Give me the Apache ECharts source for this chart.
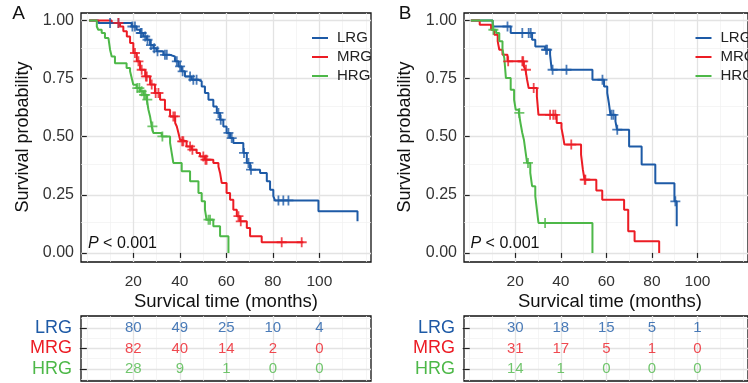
<!DOCTYPE html>
<html>
<head>
<meta charset="utf-8">
<script src="https://cdn.jsdelivr.net/npm/echarts@6/dist/echarts.min.js"></script>
<style>
html, body { margin: 0; padding: 0; background: #fff; }
#container1 { width: 748px; height: 383px; }
</style>
</head>
<body>
<div id="container1"></div>
<script>
var groups = ['LRG', 'MRG', 'HRG'];
var colors = ['#1d5aa6', '#ec1c24', '#4db848'];
var xTicks = [20, 40, 60, 80, 100];
var xMinor = [0, 10, 30, 50, 70, 90, 110, 120];
var yTicks = [0, 0.25, 0.5, 0.75, 1];
var yMinor = [0.125, 0.375, 0.625, 0.875];
var riskTimes = [20, 40, 60, 80, 100];

// panel A: step times / survival after the step / censor times
var aLrgTime = [1, 5, 19.3, 21.4, 22.9, 24.3, 25.8, 27.2, 28.6, 30.0, 32.9, 35.8, 37.9, 39.4, 40.8, 42.2, 45.1, 47.9, 49.4, 50.8, 52.3, 54.4, 55.9, 57.3, 58.7, 60.1, 61.6, 63.0, 67.3, 68.8, 70.2, 74.5, 77.4, 78.8, 80.2, 80.9, 99.6, 116.4];
var aLrgSurv = [1, .989, .974, .960, .946, .931, .917, .894, .880, .867, .852, .845, .824, .802, .781, .759, .745, .738, .716, .688, .659, .630, .602, .573, .544, .516, .494, .473, .430, .387, .358, .344, .308, .272, .244, .226, .179, .136];
var aLrgCens = [10.0, 13.6, 19.6, 20.7, 23.2, 23.6, 25.1, 26.1, 27.6, 29.0, 30.4, 33.6, 34.4, 38.7, 40.1, 41.2, 44.4, 45.8, 47.2, 56.6, 57.6, 60.9, 62.3, 67.6, 69.5, 70.6, 82.4, 84.5, 86.7];

var aMrgTime = [1, 10.7, 14.3, 15.7, 17.2, 18.6, 20.0, 21.5, 22.9, 25.1, 27.2, 29.3, 31.5, 33.6, 35.8, 38.0, 38.7, 39.4, 40.1, 40.8, 42.9, 45.1, 47.2, 48.7, 50.8, 54.4, 56.6, 57.3, 58.0, 60.1, 61.6, 63.0, 64.5, 65.9, 68.8, 70.2, 75.2, 93.1];
var aMrgSurv = [1, .989, .974, .953, .931, .903, .860, .824, .788, .759, .724, .688, .659, .616, .587, .559, .544, .516, .487, .480, .458, .444, .430, .415, .401, .387, .372, .344, .301, .258, .229, .186, .158, .136, .107, .072, .046, .046];
var aMrgCens = [13.6, 20.7, 22.2, 23.6, 25.4, 25.8, 27.9, 29.6, 30.8, 37.2, 37.9, 41.0, 41.5, 44.4, 45.4, 50.1, 51.0, 51.5, 65.2, 66.2, 83.8, 92.4];

var aHrgTime = [1, 4.3, 4.9, 6.4, 7.8, 9.3, 10.0, 10.7, 12.1, 17.1, 18.6, 19.3, 20.0, 21.4, 22.9, 24.3, 25.8, 26.5, 27.2, 27.9, 28.6, 32.2, 35.8, 36.5, 37.2, 40.8, 44.4, 48.0, 49.4, 50.8, 51.5, 54.4, 57.3, 60.9];
var aHrgSurv = [1, .974, .960, .946, .924, .917, .874, .845, .816, .795, .781, .752, .723, .709, .695, .680, .659, .616, .587, .544, .516, .501, .473, .430, .387, .351, .308, .258, .222, .186, .143, .115, .072, 0];
var aHrgCens = [21.7, 22.6, 23.6, 24.6, 25.1, 26.0, 28.2, 32.5, 52.3, 53.0];

// panel B
var bLrgTime = [0.5, 10.1, 18.0, 27.4, 28.8, 33.1, 35.3, 36.0, 53.9, 59.0, 60.4, 61.1, 61.8, 64.0, 64.7, 70.0, 75.5, 81.5, 89.9, 90.9];
var bLrgSurv = [1, .974, .946, .917, .888, .874, .852, .788, .745, .716, .688, .645, .594, .566, .530, .458, .380, .300, .222, .115];
var bLrgCens = [16.6, 23.1, 25.9, 26.8, 33.5, 34.0, 36.4, 42.5, 58.3, 62.3, 63.1, 64.8, 90.3];

var bMrgTime = [0.5, 4.4, 9.4, 10.8, 12.3, 13.0, 14.4, 16.6, 23.8, 24.5, 25.2, 25.9, 29.5, 30.2, 38.2, 40.3, 41.0, 41.6, 48.9, 49.7, 50.4, 55.6, 58.2, 67.8, 69.6, 72.4, 83.2];
var bMrgSurv = [1, .981, .960, .938, .910, .874, .852, .824, .802, .788, .745, .709, .673, .594, .559, .537, .501, .466, .423, .358, .315, .268, .229, .186, .093, .050, 0];
var bMrgCens = [16.9, 23.1, 23.5, 24.7, 28.1, 35.3, 36.7, 37.6, 44.6, 50.5, 50.8];

var bHrgTime = [0.5, 10.1, 11.6, 13.0, 14.4, 15.2, 15.9, 18.0, 19.5, 20.2, 21.6, 22.3, 23.1, 23.8, 24.5, 25.2, 26.6, 27.4, 28.8, 29.5, 30.2, 53.9];
var bHrgSurv = [1, .960, .946, .910, .874, .838, .752, .702, .659, .616, .602, .559, .516, .487, .437, .387, .344, .287, .244, .186, .129, 0];
var bHrgCens = [10.4, 21.8, 25.6, 33.1];

// numbers at risk
var aRiskLrg = [80, 49, 25, 10, 4];
var aRiskMrg = [82, 40, 14, 2, 0];
var aRiskHrg = [28, 9, 1, 0, 0];
var bRiskLrg = [30, 18, 15, 5, 1];
var bRiskMrg = [31, 17, 5, 1, 0];
var bRiskHrg = [14, 1, 0, 0, 0];

var FONT = '"Liberation Sans", Arial, Helvetica, sans-serif';
var X_MIN = -2.5, X_MAX = 122.2;
var plus = 'path://M0,4.1H10V5.9H0Z M4.1,0H5.9V10H4.1Z';

function stepData(times, surv) {
    return times.map(function (t, i) { return [t, surv[i]]; });
}
function survAt(times, surv, t) {
    var s = 1;
    for (var i = 0; i < times.length; i++) { if (times[i] <= t) s = surv[i]; }
    return s;
}
function censData(times, surv, cens) {
    return cens.map(function (c) { return [c, survAt(times, surv, c)]; });
}

function gridLines(idx, yMaj, yMin) {
    var major = { color: '#e3e3e3', width: 1.3, type: 'solid' };
    var minor = { color: '#f0f0f0', width: 0.7, type: 'solid' };
    var d = [];
    xMinor.forEach(function (v) { d.push({ xAxis: v, lineStyle: minor }); });
    yMin.forEach(function (v) { d.push({ yAxis: v, lineStyle: minor }); });
    xTicks.forEach(function (v) { d.push({ xAxis: v, lineStyle: major }); });
    yMaj.forEach(function (v) { d.push({ yAxis: v, lineStyle: major }); });
    return {
        type: 'line', xAxisIndex: idx, yAxisIndex: idx, z: 0, silent: true,
        showSymbol: false, data: [[X_MIN - 50, -50]],
        markLine: { silent: true, z: 0, symbol: ['none', 'none'], label: { show: false },
            animation: false, data: d }
    };
}

var series = [];
[0, 1, 2, 3].forEach(function (i) {
    if (i < 2) series.push(gridLines(i, yTicks, yMinor));
    else series.push(gridLines(i, [1, 2, 3], [0.5, 1.5, 2.5, 3.5]));
});

var panels = [
    { times: [aLrgTime, aMrgTime, aHrgTime], surv: [aLrgSurv, aMrgSurv, aHrgSurv], cens: [aLrgCens, aMrgCens, aHrgCens], risk: [aRiskLrg, aRiskMrg, aRiskHrg] },
    { times: [bLrgTime, bMrgTime, bHrgTime], surv: [bLrgSurv, bMrgSurv, bHrgSurv], cens: [bLrgCens, bMrgCens, bHrgCens], risk: [bRiskLrg, bRiskMrg, bRiskHrg] }
];

panels.forEach(function (p, pi) {
    groups.forEach(function (g, gi) {
        series.push({
            name: g, type: 'line', step: 'end', xAxisIndex: pi, yAxisIndex: pi,
            showSymbol: false, color: colors[gi], z: 3,
            lineStyle: { width: 2, color: colors[gi] },
            data: stepData(p.times[gi], p.surv[gi])
        });
        series.push({
            name: g + ' censored', type: 'scatter', xAxisIndex: pi, yAxisIndex: pi,
            symbol: plus, symbolSize: 10, z: 4,
            itemStyle: { color: colors[gi] },
            data: censData(p.times[gi], p.surv[gi], p.cens[gi])
        });
        series.push({
            name: g + ' at risk', type: 'scatter', xAxisIndex: pi + 2, yAxisIndex: pi + 2,
            symbolSize: 1, itemStyle: { color: 'rgba(0,0,0,0)' }, z: 4,
            label: { show: true, position: 'inside', color: colors[gi], fontSize: 15,
                fontFamily: FONT, formatter: function (q) { return q.value[2]; } },
            data: riskTimes.map(function (t, k) { return [t, 3 - gi, p.risk[gi][k]]; })
        });
    });
});

function mainX(i) {
    return {
        gridIndex: i, type: 'value', min: X_MIN, max: X_MAX,
        axisLine: { show: false },
        axisTick: { show: true, customValues: xTicks, length: 5, lineStyle: { color: '#222', width: 1.2 } },
        axisLabel: { customValues: xTicks, margin: 12, fontSize: 15.5, color: '#333', fontFamily: FONT },
        splitLine: { show: false }
    };
}
function tableX(i) {
    return {
        gridIndex: i, type: 'value', min: X_MIN, max: X_MAX,
        axisLine: { show: false }, axisTick: { show: false }, axisLabel: { show: false },
        splitLine: { show: false }
    };
}
function mainY(i) {
    return {
        gridIndex: i, type: 'value', min: -0.039, max: 1.032,
        axisLine: { show: false },
        axisTick: { show: true, customValues: yTicks, length: 5, lineStyle: { color: '#222', width: 1.2 } },
        axisLabel: { customValues: yTicks, margin: 7, fontSize: 16, color: '#333', fontFamily: FONT,
            formatter: function (v) { return v.toFixed(2); } },
        splitLine: { show: false }
    };
}
var rowNames = { 3: '{a|LRG}', 2: '{b|MRG}', 1: '{c|HRG}' };
function tableY(i) {
    return {
        gridIndex: i, type: 'value', min: 0.4, max: 3.6,
        axisLine: { show: false },
        axisTick: { show: true, customValues: [1, 2, 3], length: 7, lineStyle: { color: '#222', width: 1.2 } },
        axisLabel: { customValues: [1, 2, 3], margin: 9, fontFamily: FONT,
            formatter: function (v) { return rowNames[v]; },
            rich: {
                a: { color: colors[0], fontSize: 18, fontFamily: FONT },
                b: { color: colors[1], fontSize: 18, fontFamily: FONT },
                c: { color: colors[2], fontSize: 18, fontFamily: FONT }
            } },
        splitLine: { show: false }
    };
}

var gridBox = { show: true, borderColor: '#111', borderWidth: 1.3, backgroundColor: '#fff' };

function legendAt(left) {
    return {
        data: groups, orient: 'vertical', left: left, top: 25, icon: 'rect', z: 10,
        itemWidth: 16, itemHeight: 2, itemGap: 3,
        textStyle: { fontSize: 15, color: '#222', fontFamily: FONT, lineHeight: 16, padding: [0, 0, 0, 4] }
    };
}

function txt(x, y, s, size, extra) {
    var o = { type: 'text', x: x, y: y, silent: true,
        style: { text: s, fontSize: size, fontFamily: FONT, fill: '#111', align: 'center', verticalAlign: 'middle' } };
    if (extra) { for (var k in extra) o[k] = extra[k]; }
    return o;
}
function pText(x) {
    return { type: 'text', x: x, y: 243.5, silent: true, z: 10,
        style: { text: '{i|P} < 0.001', fontSize: 16, fontFamily: FONT, fill: '#111', align: 'left', verticalAlign: 'middle',
            rich: { i: { fontStyle: 'italic', fontSize: 16, fontFamily: FONT, fill: '#111' } } } };
}

var myChart = echarts.init(document.getElementById('container1'), null, { renderer: 'canvas' });
var option = {
    animation: false,
    textStyle: { fontFamily: FONT },
    grid: [
        Object.assign({ left: 81, top: 13, width: 290, height: 249 }, gridBox),
        Object.assign({ left: 464, top: 13, width: 290, height: 249 }, gridBox),
        Object.assign({ left: 81, top: 316, width: 290, height: 65 }, gridBox),
        Object.assign({ left: 464, top: 316, width: 290, height: 65 }, gridBox)
    ],
    xAxis: [mainX(0), mainX(1), tableX(2), tableX(3)],
    yAxis: [mainY(0), mainY(1), tableY(2), tableY(3)],
    legend: [legendAt(307), legendAt(690.5)],
    graphic: [
        txt(18.5, 13.5, 'A', 19),
        txt(405, 14, 'B', 19),
        txt(23, 137, 'Survival probability', 18, { rotation: Math.PI / 2 }),
        txt(405.5, 137, 'Survival probability', 18, { rotation: Math.PI / 2 }),
        txt(226, 302, 'Survical time (months)', 18.5),
        txt(610, 302, 'Survical time (months)', 18.5),
        pText(88),
        pText(470.5)
    ],
    series: series
};
myChart.setOption(option);
</script>
</body>
</html>
